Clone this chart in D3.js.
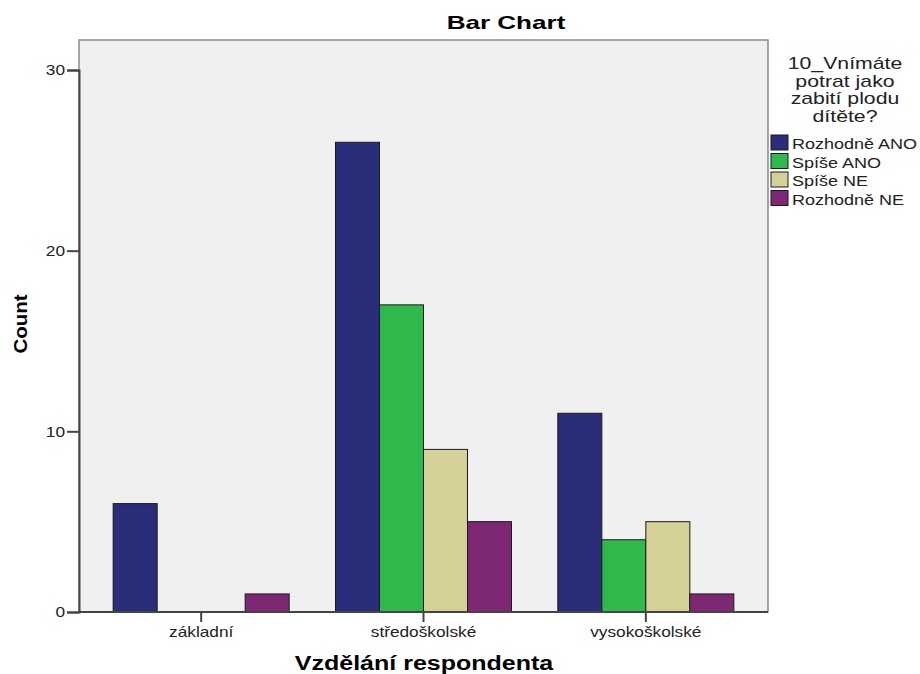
<!DOCTYPE html>
<html><head><meta charset="utf-8">
<script src="https://cdn.jsdelivr.net/npm/d3@7"></script>
<style>body{margin:0;background:#fff}svg{display:block;font-family:Arial,"Liberation Sans",sans-serif}</style>
</head><body>
<svg id="c" width="920" height="674"></svg>
<script>
const categories = ["základní", "středoškolské", "vysokoškolské"];
const seriesNames = ["Rozhodně ANO", "Spíše ANO", "Spíše NE", "Rozhodně NE"];
const rozhodneAno = [6, 26, 11];
const spiseAno = [0, 17, 4];
const spiseNe = [0, 9, 5];
const rozhodneNe = [1, 5, 1];
const colors = ["#2a2d7a", "#2fb84b", "#d5cf98", "#7e2875"];
const yTicks = [0, 10, 20, 30];
const legendTitle = ["10_Vnímáte", "potrat jako", "zabití plodu", "dítěte?"];

const seriesValues = [rozhodneAno, spiseAno, spiseNe, rozhodneNe];
const svg = d3.select("#c");
const L = 79, R = 768, T = 40, B = 612;

// horizontally widen text (reference glyphs are wide)
function widen(sel, f) {
  sel.each(function () {
    const n = this.getComputedTextLength();
    d3.select(this).attr("textLength", n * f).attr("lengthAdjust", "spacingAndGlyphs");
  });
}

const y = d3.scaleLinear().domain([0, 30]).range([B, 70]);
const x0 = d3.scaleBand().domain(categories).range([90, 757]).padding(0);
const groupW = 176;
const x1 = d3.scaleBand().domain(seriesNames).range([0, groupW]).padding(0);

svg.append("rect").attr("x", L).attr("y", T).attr("width", R - L).attr("height", B - T)
  .attr("fill", "#f0f0f0").attr("stroke", "#8a8a8a").attr("stroke-width", 1.5);

const g = svg.append("g");
categories.forEach((c, ci) => {
  const gx = x0(c) + (x0.bandwidth() - groupW) / 2;
  seriesNames.forEach((s, si) => {
    const v = seriesValues[si][ci];
    if (v <= 0) return;
    g.append("rect")
      .attr("x", gx + x1(s)).attr("y", y(v))
      .attr("width", x1.bandwidth()).attr("height", y(0) - y(v))
      .attr("fill", colors[si]).attr("stroke", "#1a1a1a").attr("stroke-width", 1);
  });
});

const yAxis = svg.append("g").attr("transform", `translate(${L},0)`)
  .call(d3.axisLeft(y).tickValues(yTicks).tickSize(12).tickPadding(2).tickFormat(d3.format("d")));
yAxis.select(".domain").attr("stroke", "#444").attr("stroke-width", 2);
yAxis.selectAll(".tick line").attr("stroke", "#444").attr("stroke-width", 2);
yAxis.selectAll("text").attr("font-size", 15).attr("fill", "#222").attr("font-family", "Arial, Liberation Sans, sans-serif");
widen(yAxis.selectAll("text"), 1.15);

const xAxis = svg.append("g").attr("transform", `translate(0,${B})`)
  .call(d3.axisBottom(x0).tickSize(10).tickPadding(4).tickSizeOuter(0));
xAxis.select(".domain").attr("stroke", "#444").attr("stroke-width", 2).attr("d", `M${L},0H${R}`);
xAxis.selectAll(".tick line").attr("stroke", "#444").attr("stroke-width", 2);
xAxis.selectAll("text").attr("font-size", 15).attr("fill", "#222").attr("font-family", "Arial, Liberation Sans, sans-serif");
widen(xAxis.selectAll("text"), 1.15);

const t1 = svg.append("text").attr("x", 506).attr("y", 29).attr("text-anchor", "middle")
  .attr("font-size", 19).attr("font-weight", "bold").text("Bar Chart");
widen(t1, 1.37);
const t2 = svg.append("text").attr("x", 424).attr("y", 670).attr("text-anchor", "middle")
  .attr("font-size", 20).attr("font-weight", "bold").text("Vzdělání respondenta");
widen(t2, 1.25);
const t3 = svg.append("text").attr("transform", "translate(27,324) rotate(-90)").attr("text-anchor", "middle")
  .attr("font-size", 19).attr("font-weight", "bold").text("Count");
widen(t3, 1.08);

const lg = svg.append("g");
legendTitle.forEach((t, i) => {
  const tt = lg.append("text").attr("x", 845).attr("y", 69 + i * 17.7).attr("text-anchor", "middle")
    .attr("font-size", 17).attr("fill", "#222").text(t);
  widen(tt, 1.25);
});
seriesNames.forEach((s, i) => {
  const yy = 135 + i * 18.5;
  lg.append("rect").attr("x", 771).attr("y", yy).attr("width", 17).attr("height", 15)
    .attr("fill", colors[i]).attr("stroke", "#1a1a1a").attr("stroke-width", 1);
  const tt = lg.append("text").attr("x", 792).attr("y", yy + 14).attr("font-size", 15).attr("fill", "#222").text(s);
  widen(tt, 1.2);
});
</script>
</body></html>
